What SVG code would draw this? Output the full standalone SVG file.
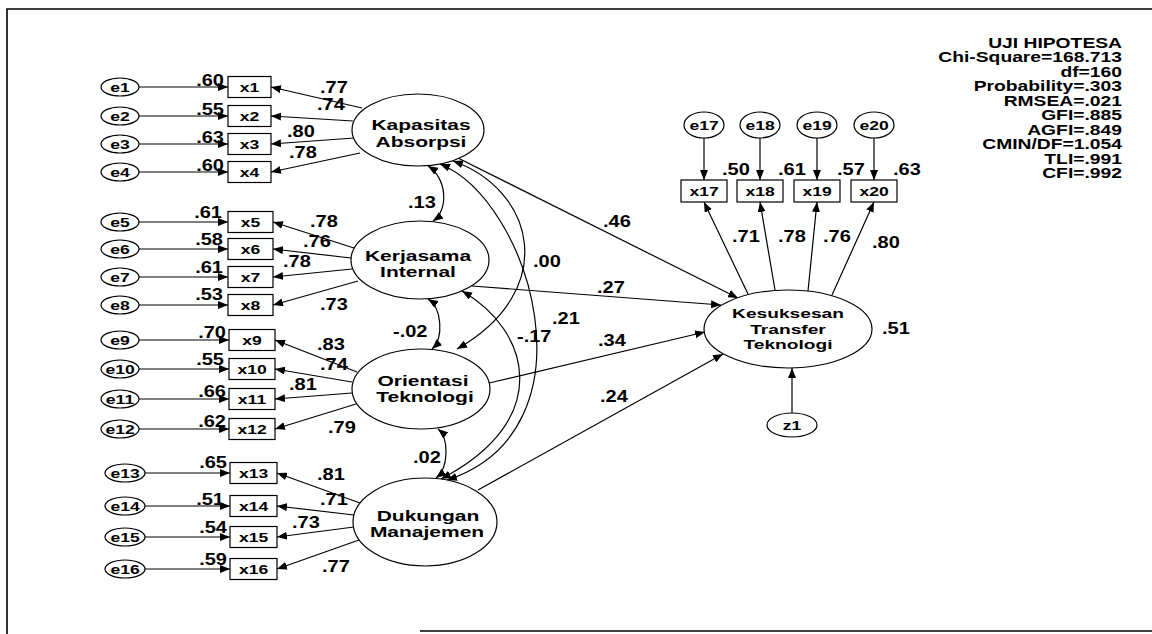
<svg xmlns="http://www.w3.org/2000/svg" width="1152" height="634" viewBox="0 0 1152 634">
<style>
.ln{stroke:#000;stroke-width:1.2;fill:none}
.arr{marker-end:url(#ah)}
.cov{marker-start:url(#ah);marker-end:url(#ah)}
.nd{fill:#fff;stroke:#000;stroke-width:1.2}
.bd{stroke:#000;stroke-width:1.6;fill:none}
text{font-family:"Liberation Sans",Arial,sans-serif;fill:#000}
.lab{font-size:13.5px;font-weight:bold;text-anchor:middle}
.lat{font-size:14px;font-weight:bold;text-anchor:middle}
.les{font-size:13.5px;font-weight:bold;text-anchor:middle}
.num{font-size:16px;font-weight:bold}
.ne{font-size:16px;font-weight:bold;text-anchor:end}
.st{font-size:14.5px;font-weight:bold;text-anchor:end}
</style>
<defs>
<marker id="ah" viewBox="0 0 10 8" refX="10" refY="4" markerWidth="10" markerHeight="8" markerUnits="userSpaceOnUse" orient="auto-start-reverse"><path d="M0,0 L10,4 L0,8 z" fill="#000"/></marker>
</defs>
<rect width="1152" height="634" fill="#fff"/>
<g id="border">
<path class="bd" d="M7,634 V9 H1152"/>
<path class="bd" d="M420,631 H1152"/>
</g>
<g id="connectors">
<path class="ln arr" d="M139,87 H228"/>
<path class="ln arr" d="M139,116 H228"/>
<path class="ln arr" d="M139,144 H228"/>
<path class="ln arr" d="M139,172 H228"/>
<path class="ln arr" d="M139,222 H228"/>
<path class="ln arr" d="M139,249 H228"/>
<path class="ln arr" d="M139,277 H228"/>
<path class="ln arr" d="M139,305 H228"/>
<path class="ln arr" d="M139,340 H229"/>
<path class="ln arr" d="M139,369 H229"/>
<path class="ln arr" d="M139,399 H229"/>
<path class="ln arr" d="M139,429 H229"/>
<path class="ln arr" d="M145,473 H230"/>
<path class="ln arr" d="M145,506 H230"/>
<path class="ln arr" d="M145,537 H230"/>
<path class="ln arr" d="M145,569 H230"/>
<path class="ln arr" d="M362,108 L271,87"/>
<path class="ln arr" d="M353,121 L271,116"/>
<path class="ln arr" d="M354,138 L271,144"/>
<path class="ln arr" d="M360,153 L271,172"/>
<path class="ln arr" d="M354,248 L273,222"/>
<path class="ln arr" d="M351,258 L273,249"/>
<path class="ln arr" d="M352,269 L273,277"/>
<path class="ln arr" d="M358,281 L273,305"/>
<path class="ln arr" d="M357,372 L275,340"/>
<path class="ln arr" d="M352,382 L275,369"/>
<path class="ln arr" d="M352,393 L275,399"/>
<path class="ln arr" d="M356,404 L275,429"/>
<path class="ln arr" d="M360,503 L277,473"/>
<path class="ln arr" d="M354,515 L277,506"/>
<path class="ln arr" d="M354,527 L277,537"/>
<path class="ln arr" d="M359,540 L277,569"/>
<path class="ln cov" d="M428,166 C447,178 449,210 433,221"/>
<path class="ln cov" d="M428,299 C442,308 444,338 432,349"/>
<path class="ln cov" d="M438,429 C449,438 449,468 436,478"/>
<path class="ln cov" d="M453,161 C535,190 560,290 457,349"/>
<path class="ln cov" d="M440,164 C530,200 600,430 447,480"/>
<path class="ln cov" d="M462,291 C530,330 555,420 441,479"/>
<path class="ln arr" d="M458,158 L738,298"/>
<path class="ln arr" d="M472,286 L721,305"/>
<path class="ln arr" d="M489,383 L705,332"/>
<path class="ln arr" d="M478,490 L723,354"/>
<path class="ln arr" d="M748,294 L704,202"/>
<path class="ln arr" d="M775,290 L760,202"/>
<path class="ln arr" d="M808,291 L817,202"/>
<path class="ln arr" d="M832,295 L874,202"/>
<path class="ln arr" d="M704,138 V180"/>
<path class="ln arr" d="M760,138 V180"/>
<path class="ln arr" d="M817,138 V180"/>
<path class="ln arr" d="M874,138 V180"/>
<path class="ln arr" d="M792,413 V368"/>
</g>
<g id="e1"><ellipse class="nd" cx="120" cy="87" rx="19" ry="9"/><text class="lab" transform="translate(120,92) scale(1.3,1)">e1</text></g>
<g id="e2"><ellipse class="nd" cx="120" cy="116" rx="19" ry="9"/><text class="lab" transform="translate(120,121) scale(1.3,1)">e2</text></g>
<g id="e3"><ellipse class="nd" cx="120" cy="144" rx="19" ry="9"/><text class="lab" transform="translate(120,149) scale(1.3,1)">e3</text></g>
<g id="e4"><ellipse class="nd" cx="120" cy="172" rx="19" ry="9"/><text class="lab" transform="translate(120,177) scale(1.3,1)">e4</text></g>
<g id="e5"><ellipse class="nd" cx="120" cy="222" rx="19" ry="9"/><text class="lab" transform="translate(120,227) scale(1.3,1)">e5</text></g>
<g id="e6"><ellipse class="nd" cx="120" cy="249" rx="19" ry="9"/><text class="lab" transform="translate(120,254) scale(1.3,1)">e6</text></g>
<g id="e7"><ellipse class="nd" cx="120" cy="277" rx="19" ry="9"/><text class="lab" transform="translate(120,282) scale(1.3,1)">e7</text></g>
<g id="e8"><ellipse class="nd" cx="120" cy="305" rx="19" ry="9"/><text class="lab" transform="translate(120,310) scale(1.3,1)">e8</text></g>
<g id="e9"><ellipse class="nd" cx="120" cy="340" rx="19" ry="9"/><text class="lab" transform="translate(120,345) scale(1.3,1)">e9</text></g>
<g id="e10"><ellipse class="nd" cx="120" cy="369" rx="19" ry="9"/><text class="lab" transform="translate(120,374) scale(1.3,1)">e10</text></g>
<g id="e11"><ellipse class="nd" cx="120" cy="399" rx="19" ry="9"/><text class="lab" transform="translate(120,404) scale(1.3,1)">e11</text></g>
<g id="e12"><ellipse class="nd" cx="120" cy="429" rx="19" ry="9"/><text class="lab" transform="translate(120,434) scale(1.3,1)">e12</text></g>
<g id="e13"><ellipse class="nd" cx="125" cy="473" rx="20" ry="9"/><text class="lab" transform="translate(125,478) scale(1.3,1)">e13</text></g>
<g id="e14"><ellipse class="nd" cx="125" cy="506" rx="20" ry="9"/><text class="lab" transform="translate(125,511) scale(1.3,1)">e14</text></g>
<g id="e15"><ellipse class="nd" cx="125" cy="537" rx="20" ry="9"/><text class="lab" transform="translate(125,542) scale(1.3,1)">e15</text></g>
<g id="e16"><ellipse class="nd" cx="125" cy="569" rx="20" ry="9"/><text class="lab" transform="translate(125,574) scale(1.3,1)">e16</text></g>
<g id="x1"><rect class="nd" x="228" y="76.5" width="43" height="21"/><text class="lab" transform="translate(249.5,92) scale(1.3,1)">x1</text></g>
<g id="x2"><rect class="nd" x="228" y="105.5" width="43" height="21"/><text class="lab" transform="translate(249.5,121) scale(1.3,1)">x2</text></g>
<g id="x3"><rect class="nd" x="228" y="133.5" width="43" height="21"/><text class="lab" transform="translate(249.5,149) scale(1.3,1)">x3</text></g>
<g id="x4"><rect class="nd" x="228" y="161.5" width="43" height="21"/><text class="lab" transform="translate(249.5,177) scale(1.3,1)">x4</text></g>
<g id="x5"><rect class="nd" x="228" y="211.5" width="45" height="21"/><text class="lab" transform="translate(250.5,227) scale(1.3,1)">x5</text></g>
<g id="x6"><rect class="nd" x="228" y="238.5" width="45" height="21"/><text class="lab" transform="translate(250.5,254) scale(1.3,1)">x6</text></g>
<g id="x7"><rect class="nd" x="228" y="266.5" width="45" height="21"/><text class="lab" transform="translate(250.5,282) scale(1.3,1)">x7</text></g>
<g id="x8"><rect class="nd" x="228" y="294.5" width="45" height="21"/><text class="lab" transform="translate(250.5,310) scale(1.3,1)">x8</text></g>
<g id="x9"><rect class="nd" x="229" y="329.5" width="46" height="21"/><text class="lab" transform="translate(252,345) scale(1.3,1)">x9</text></g>
<g id="x10"><rect class="nd" x="229" y="358.5" width="46" height="21"/><text class="lab" transform="translate(252,374) scale(1.3,1)">x10</text></g>
<g id="x11"><rect class="nd" x="229" y="388.5" width="46" height="21"/><text class="lab" transform="translate(252,404) scale(1.3,1)">x11</text></g>
<g id="x12"><rect class="nd" x="229" y="418.5" width="46" height="21"/><text class="lab" transform="translate(252,434) scale(1.3,1)">x12</text></g>
<g id="x13"><rect class="nd" x="230" y="462.5" width="47" height="21"/><text class="lab" transform="translate(253.5,478) scale(1.3,1)">x13</text></g>
<g id="x14"><rect class="nd" x="230" y="495.5" width="47" height="21"/><text class="lab" transform="translate(253.5,511) scale(1.3,1)">x14</text></g>
<g id="x15"><rect class="nd" x="230" y="526.5" width="47" height="21"/><text class="lab" transform="translate(253.5,542) scale(1.3,1)">x15</text></g>
<g id="x16"><rect class="nd" x="230" y="558.5" width="47" height="21"/><text class="lab" transform="translate(253.5,574) scale(1.3,1)">x16</text></g>
<g id="kapasitas"><ellipse class="nd" cx="418" cy="130" rx="66" ry="36"/><text class="lat" transform="translate(421,130) scale(1.5,1)">Kapasitas</text><text class="lat" transform="translate(421,147) scale(1.5,1)">Absorpsi</text></g>
<g id="kerjasama"><ellipse class="nd" cx="420" cy="260" rx="69" ry="39"/><text class="lat" transform="translate(418,261) scale(1.5,1)">Kerjasama</text><text class="lat" transform="translate(418,277) scale(1.5,1)">Internal</text></g>
<g id="orientasi"><ellipse class="nd" cx="421" cy="389" rx="69" ry="40"/><text class="lat" transform="translate(423,386) scale(1.5,1)">Orientasi</text><text class="lat" transform="translate(425,402) scale(1.5,1)">Teknologi</text></g>
<g id="dukungan"><ellipse class="nd" cx="425" cy="522" rx="72" ry="44"/><text class="lat" transform="translate(428,521) scale(1.5,1)">Dukungan</text><text class="lat" transform="translate(427,537) scale(1.5,1)">Manajemen</text></g>
<g id="kesuksesan"><ellipse class="nd" cx="788" cy="329" rx="84" ry="39"/><text class="les" transform="translate(788,318) scale(1.42,1)">Kesuksesan</text><text class="les" transform="translate(788,333.5) scale(1.42,1)">Transfer</text><text class="les" transform="translate(788,349) scale(1.42,1)">Teknologi</text></g>
<g id="z1"><ellipse class="nd" cx="792" cy="425" rx="25" ry="12"/><text class="lab" transform="translate(792,430) scale(1.3,1)">z1</text></g>
<g id="e17"><ellipse class="nd" cx="704" cy="125" rx="20" ry="13"/><text class="lab" transform="translate(704,130) scale(1.3,1)">e17</text></g>
<g id="e18"><ellipse class="nd" cx="760" cy="125" rx="20" ry="13"/><text class="lab" transform="translate(760,130) scale(1.3,1)">e18</text></g>
<g id="e19"><ellipse class="nd" cx="817" cy="125" rx="20" ry="13"/><text class="lab" transform="translate(817,130) scale(1.3,1)">e19</text></g>
<g id="e20"><ellipse class="nd" cx="874" cy="125" rx="20" ry="13"/><text class="lab" transform="translate(874,130) scale(1.3,1)">e20</text></g>
<g id="x17"><rect class="nd" x="681" y="180" width="46" height="22"/><text class="lab" transform="translate(704,196) scale(1.3,1)">x17</text></g>
<g id="x18"><rect class="nd" x="737" y="180" width="46" height="22"/><text class="lab" transform="translate(760,196) scale(1.3,1)">x18</text></g>
<g id="x19"><rect class="nd" x="794" y="180" width="46" height="22"/><text class="lab" transform="translate(817,196) scale(1.3,1)">x19</text></g>
<g id="x20"><rect class="nd" x="851" y="180" width="46" height="22"/><text class="lab" transform="translate(874,196) scale(1.3,1)">x20</text></g>
<g id="labels">
<text class="ne" transform="translate(224,86) scale(1.25,1)">.60</text>
<text class="ne" transform="translate(224,115) scale(1.25,1)">.55</text>
<text class="ne" transform="translate(224,143) scale(1.25,1)">.63</text>
<text class="ne" transform="translate(224,171) scale(1.25,1)">.60</text>
<text class="ne" transform="translate(222,218) scale(1.25,1)">.61</text>
<text class="ne" transform="translate(223,245) scale(1.25,1)">.58</text>
<text class="ne" transform="translate(223,273) scale(1.25,1)">.61</text>
<text class="ne" transform="translate(223,300) scale(1.25,1)">.53</text>
<text class="ne" transform="translate(226,338) scale(1.25,1)">.70</text>
<text class="ne" transform="translate(224,365) scale(1.25,1)">.55</text>
<text class="ne" transform="translate(226,397) scale(1.25,1)">.66</text>
<text class="ne" transform="translate(226,427) scale(1.25,1)">.62</text>
<text class="ne" transform="translate(227,468) scale(1.25,1)">.65</text>
<text class="ne" transform="translate(224,505) scale(1.25,1)">.51</text>
<text class="ne" transform="translate(227,533) scale(1.25,1)">.54</text>
<text class="ne" transform="translate(227,565) scale(1.25,1)">.59</text>
<text class="num" transform="translate(320,93) scale(1.25,1)">.77</text>
<text class="num" transform="translate(317,110) scale(1.25,1)">.74</text>
<text class="num" transform="translate(287,137) scale(1.25,1)">.80</text>
<text class="num" transform="translate(289,158) scale(1.25,1)">.78</text>
<text class="num" transform="translate(310,227) scale(1.25,1)">.78</text>
<text class="num" transform="translate(303,247) scale(1.25,1)">.76</text>
<text class="num" transform="translate(283,267) scale(1.25,1)">.78</text>
<text class="num" transform="translate(320,310) scale(1.25,1)">.73</text>
<text class="num" transform="translate(317,350) scale(1.25,1)">.83</text>
<text class="num" transform="translate(320,370) scale(1.25,1)">.74</text>
<text class="num" transform="translate(289,390) scale(1.25,1)">.81</text>
<text class="num" transform="translate(328,433) scale(1.25,1)">.79</text>
<text class="num" transform="translate(317,480) scale(1.25,1)">.81</text>
<text class="num" transform="translate(320,505) scale(1.25,1)">.71</text>
<text class="num" transform="translate(292,528) scale(1.25,1)">.73</text>
<text class="num" transform="translate(322,572) scale(1.25,1)">.77</text>
<text class="num" transform="translate(408,208) scale(1.25,1)">.13</text>
<text class="num" transform="translate(393,337) scale(1.25,1)">-.02</text>
<text class="num" transform="translate(413,463) scale(1.25,1)">.02</text>
<text class="num" transform="translate(533,267) scale(1.25,1)">.00</text>
<text class="num" transform="translate(552,324) scale(1.25,1)">.21</text>
<text class="num" transform="translate(517,342) scale(1.25,1)">-.17</text>
<text class="num" transform="translate(603,227) scale(1.25,1)">.46</text>
<text class="num" transform="translate(597,293) scale(1.25,1)">.27</text>
<text class="num" transform="translate(598,346) scale(1.25,1)">.34</text>
<text class="num" transform="translate(600,402) scale(1.25,1)">.24</text>
<text class="num" transform="translate(882,334) scale(1.25,1)">.51</text>
<text class="num" transform="translate(722,175) scale(1.25,1)">.50</text>
<text class="num" transform="translate(778,175) scale(1.25,1)">.61</text>
<text class="num" transform="translate(837,175) scale(1.25,1)">.57</text>
<text class="num" transform="translate(893,175) scale(1.25,1)">.63</text>
<text class="num" transform="translate(732,242) scale(1.25,1)">.71</text>
<text class="num" transform="translate(778,242) scale(1.25,1)">.78</text>
<text class="num" transform="translate(823,242) scale(1.25,1)">.76</text>
<text class="num" transform="translate(872,248) scale(1.25,1)">.80</text>
</g>
<g id="fit">
<text class="st" transform="translate(1122,48) scale(1.33,1)">UJI HIPOTESA</text>
<text class="st" transform="translate(1122,62.4) scale(1.33,1)">Chi-Square=168.713</text>
<text class="st" transform="translate(1122,76.9) scale(1.33,1)">df=160</text>
<text class="st" transform="translate(1122,91.3) scale(1.33,1)">Probability=.303</text>
<text class="st" transform="translate(1122,105.8) scale(1.33,1)">RMSEA=.021</text>
<text class="st" transform="translate(1122,120.2) scale(1.33,1)">GFI=.885</text>
<text class="st" transform="translate(1122,134.6) scale(1.33,1)">AGFI=.849</text>
<text class="st" transform="translate(1122,149.1) scale(1.33,1)">CMIN/DF=1.054</text>
<text class="st" transform="translate(1122,163.5) scale(1.33,1)">TLI=.991</text>
<text class="st" transform="translate(1122,178) scale(1.33,1)">CFI=.992</text>
</g>
</svg>
